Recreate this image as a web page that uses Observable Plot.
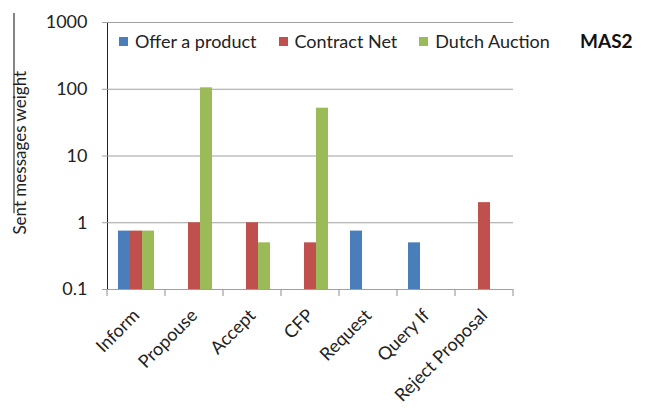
<!DOCTYPE html>
<html>
<head>
<meta charset="utf-8">
<script src="https://cdn.jsdelivr.net/npm/d3@7"></script>
<script src="https://cdn.jsdelivr.net/npm/@observablehq/plot@0.6"></script>
<style>
  body { margin: 0; background: #fff; }
  #wrap { position: relative; width: 651px; height: 415px; font-family: Lato, "Open Sans", sans-serif; }
  #legend { position: absolute; top: 30px; left: 119px; display: flex; font-size: 18px; color: #222; white-space: nowrap; }
  #legend .item { display: flex; align-items: center; margin-right: 22px; }
  #legend .sw { width: 9px; height: 9px; margin-right: 7px; }
  #mas { position: absolute; top: 29px; left: 580px; font-weight: bold; font-size: 19px; color: #111; }
  svg [aria-label="y-axis tick"] path, svg [aria-label="y-axis tick"] { stroke: #a0a0a0; }
</style>
</head>
<body>
<div id="wrap"></div>
<script>
const categories = ["Inform", "Propouse", "Accept", "CFP", "Request", "Query If", "Reject Proposal"];
const series = ["Offer a product", "Contract Net", "Dutch Auction"];
const offerValues    = [0.75, null, null, null, 0.75, 0.5, null];
const contractValues = [0.75, 1, 1, 0.5, null, null, 2];
const dutchValues    = [0.75, 105, 0.5, 52, null, null, null];
const yTicks = [0.1, 1, 10, 100, 1000];
const colors = ["#4a7ebb", "#c0504d", "#9bbb59"];
const yLabel = "Sent messages weight";
const title = "MAS2";

const seriesValues = [offerValues, contractValues, dutchValues];
const data = [];
categories.forEach((c, i) => {
  series.forEach((s, j) => {
    const v = seriesValues[j][i];
    if (v != null) data.push({category: c, series: s, value: v});
  });
});

const grid = "#a0a0a0";
const plot = Plot.plot({
  width: 651,
  height: 415,
  marginLeft: 105,
  marginRight: 137,
  marginTop: 22,
  marginBottom: 126,
  style: {fontFamily: "Lato, 'Open Sans', sans-serif", fontSize: "18px", color: "#222", background: "#fff"},
  fx: {domain: categories, padding: 0, label: null, axis: "bottom", tickRotate: -45, tickSize: 0, tickPadding: 23},
  x: {domain: series, axis: null, paddingInner: 0, paddingOuter: 0.745},
  y: {type: "log", domain: [0.1, 1000], ticks: yTicks, tickFormat: d => String(d), label: null, tickSize: 5, tickPadding: 15, line: true},
  color: {domain: series, range: colors},
  marks: [
    Plot.ruleY(yTicks.slice(1), {stroke: grid, strokeWidth: 1.2}),
    Plot.barY(data, {fx: "category", x: "series", y1: 0.1, y2: "value", fill: "series"}),
    Plot.ruleY([0.1], {stroke: grid, strokeWidth: 1.2})
  ]
});

const wrap = document.getElementById("wrap");
wrap.appendChild(plot);

const svg = d3.select(plot);
svg.selectAll('[aria-label="y-axis line"] path, [aria-label="y-axis line"]').attr("stroke", grid);

// category boundary ticks
const fx = plot.scale("fx");
const y = plot.scale("y");
const y0 = y.apply(0.1);
const bw = fx.bandwidth;
const bounds = categories.map(c => fx.apply(c));
bounds.push(fx.apply(categories[categories.length - 1]) + bw);
svg.append("g").selectAll("line").data(bounds).join("line")
  .attr("x1", d => d).attr("x2", d => d)
  .attr("y1", y0).attr("y2", y0 + 7)
  .attr("stroke", grid).attr("stroke-width", 1.2);

// y axis label
svg.append("text")
  .attr("transform", `translate(26, ${y.apply(11)}) rotate(-90)`)
  .attr("text-anchor", "middle")
  .attr("font-size", 17)
  .attr("fill", "#222")
  .text(yLabel);
svg.append("line")
  .attr("x1", 14).attr("x2", 14)
  .attr("y1", y.apply(1000) - 9).attr("y2", y.apply(1) - 9)
  .attr("stroke", "#333").attr("stroke-width", 1.2);

// legend
const legend = document.createElement("div");
legend.id = "legend";
series.forEach((s, i) => {
  const it = document.createElement("div");
  it.className = "item";
  const sw = document.createElement("span");
  sw.className = "sw";
  sw.style.background = colors[i];
  const t = document.createElement("span");
  t.textContent = s;
  it.appendChild(sw); it.appendChild(t);
  legend.appendChild(it);
});
wrap.appendChild(legend);

const mas = document.createElement("div");
mas.id = "mas";
mas.textContent = title;
wrap.appendChild(mas);
</script>
</body>
</html>
